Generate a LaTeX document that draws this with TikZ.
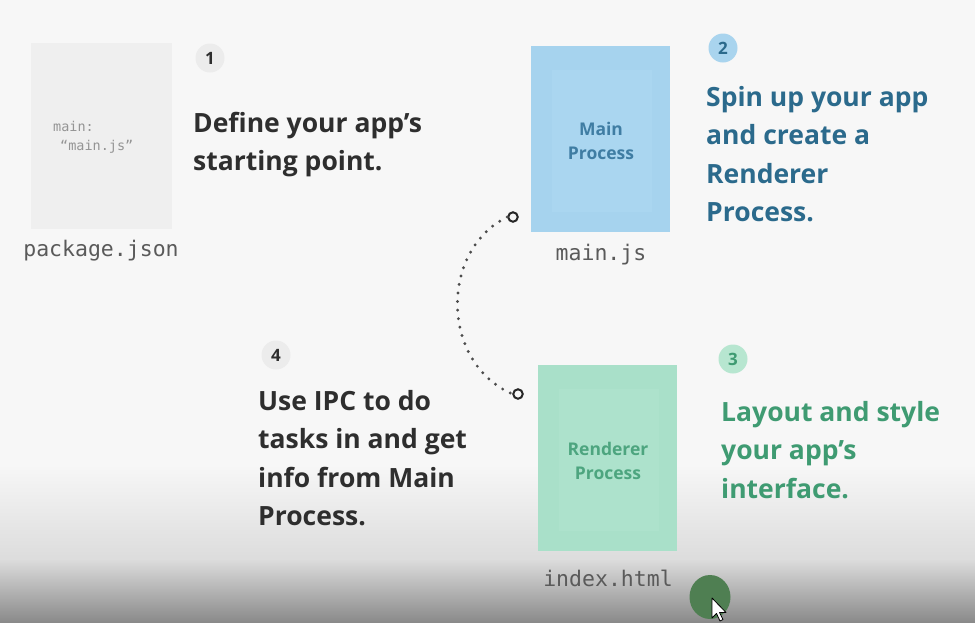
\documentclass[tikz,border=0pt]{standalone}
\usepackage{fontspec}
\setmainfont{Open Sans}
\setmonofont{DejaVu Sans Mono}
\usetikzlibrary{shapes.geometric}
\definecolor{bgtop}{HTML}{F7F7F7}
\definecolor{bgmid}{HTML}{DCDCDC}
\definecolor{bgbot}{HTML}{8A8A8A}
\definecolor{graybox}{HTML}{EFEFEF}
\definecolor{darktext}{HTML}{2E2E2E}
\definecolor{bluefill}{HTML}{A6D3EE}
\definecolor{blueinner}{HTML}{AAD6F0}
\definecolor{bluetext}{HTML}{2B6A8C}
\definecolor{blueboxtext}{HTML}{3F7DA3}
\definecolor{greenfill}{HTML}{A9E0C9}
\definecolor{greeninner}{HTML}{ADE2CC}
\definecolor{greentext}{HTML}{3F9B72}
\definecolor{greenboxtext}{HTML}{4DA57F}
\definecolor{badgegray}{HTML}{ECECEC}
\definecolor{badgeblue}{HTML}{A9D4EE}
\definecolor{badgegreen}{HTML}{B7E6D0}
\definecolor{monogray}{HTML}{5A5A5A}
\definecolor{dotgreen}{HTML}{4F7F52}
\tikzset{
  x=1pt, y=-1pt,
  badge/.style={circle, minimum size=29pt, inner sep=0, font=\bfseries\fontsize{17}{17}\selectfont},
  bigtext/.style={anchor=base west, inner sep=0, font=\bfseries\fontsize{26.5}{38.5}\selectfont},
  boxtext/.style={align=center, inner sep=0, font=\bfseries\fontsize{17.5}{24.5}\selectfont},
  filelabel/.style={anchor=base, inner sep=0, text=monogray, font=\ttfamily\fontsize{21.5}{22}\selectfont},
  codetext/.style={anchor=base west, inner sep=0, text=black!42, font=\ttfamily\fontsize{13.5}{14}\selectfont},
  ring/.style={circle, draw=black!85, line width=2pt, minimum size=9.5pt, inner sep=0},
  ipc/.style={draw=black!70, line width=3.2pt, line cap=round, dash pattern=on 0pt off 8.6pt}
}
\begin{document}
\begin{tikzpicture}
% background
\useasboundingbox (0,0) rectangle (975,622);
\fill[bgtop] (0,0) rectangle (975,465);
\shade[top color=bgtop, bottom color=bgmid] (0,464.5) rectangle (975,560);
\shade[top color=bgmid, bottom color=bgbot] (0,559.5) rectangle (975,622);

% step 1
\fill[graybox] (31,43) rectangle (172,229);
\node[codetext] (pkgl1) at (53,131) {main:};
\node[codetext] (pkgl2) at (60,150) {“main.js”};
\node[filelabel] (pkg) at (101,256) {package.json};
\node[badge, fill=badgegray, text=darktext] (b1) at (210,58) {1};
\node[bigtext, text=darktext] (t1) at (193,132) {\parbox[t]{300pt}{\raggedright Define your app’s\\starting point.}};

% step 2
\fill[bluefill] (531,46) rectangle (670,232);
\fill[blueinner] (552,70) rectangle (652,212);
\node[boxtext, text=blueboxtext] (mainproc) at (601,141) {Main\\Process};
\node[filelabel] (mainjs) at (601,260) {main.js};
\node[badge, fill=badgeblue, text=bluetext] (b2) at (723,48) {2};
\node[bigtext, text=bluetext] (t2) at (706,106) {\parbox[t]{300pt}{\raggedright Spin up your app\\and create a\\Renderer\\Process.}};

% step 3
\fill[greenfill] (538,365) rectangle (677,551);
\fill[greeninner] (559,389) rectangle (659,531);
\node[boxtext, text=greenboxtext] (rendproc) at (608,461) {Renderer\\Process};
\node[filelabel] (indexhtml) at (608,586) {index.html};
\node[badge, fill=badgegreen, text=greentext] (b3) at (733,359) {3};
\node[bigtext, text=greentext] (t3) at (721,421) {\parbox[t]{300pt}{\raggedright Layout and style\\your app’s\\interface.}};

% step 4
\node[badge, fill=badgegray, text=darktext] (b4) at (276,355) {4};
\node[bigtext, text=darktext] (t4) at (258,410) {\parbox[t]{300pt}{\raggedright Use IPC to do\\tasks in and get\\info from Main\\Process.}};

% IPC arc
\node[ring] (ra) at (513,217) {};
\node[ring] (rb) at (518,394) {};
\draw[ipc] (ra.west) .. controls (440,250) and (440,362) .. (rb.west);

% cursor highlight
\node[ellipse, fill=dotgreen, minimum width=41pt, minimum height=44pt, inner sep=0] (dot) at (710,597) {};
\draw[fill=white, draw=black, line width=0.8pt, line join=round]
  (712,598) -- (712,618) -- (716.5,613.5) -- (720,621) -- (723,619.5) -- (719.5,612.5) -- (726,612.5) -- cycle;
\end{tikzpicture}
\end{document}
